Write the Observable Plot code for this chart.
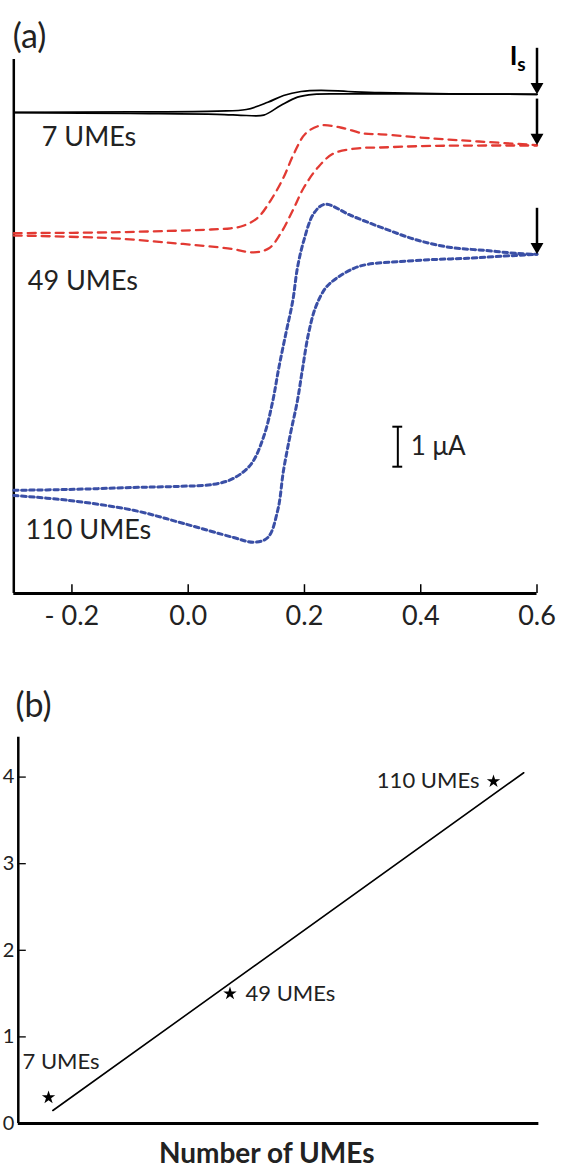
<!DOCTYPE html>
<html><head><meta charset="utf-8">
<script src="https://cdn.jsdelivr.net/npm/d3@7"></script>
<script src="https://cdn.jsdelivr.net/npm/@observablehq/plot@0.6"></script>
<style>
html,body{margin:0;padding:0;background:#fff;}
#chart{width:561px;}
#chart svg{display:block;overflow:visible;}
</style></head><body><div id="chart"></div>
<script>
// ---------- Panel (a): cyclic voltammograms (E in V, current in µA, offset per trace) ----------
const blackUpE = [-0.3, -0.1, 0.05, 0.1, 0.137, 0.164, 0.194, 0.228, 0.275, 0.33, 0.45, 0.6];
const blackUpI = [12.03, 12.04, 12.06, 12.1, 12.28, 12.45, 12.55, 12.58, 12.55, 12.52, 12.49, 12.48];
const blackDnE = [-0.3, -0.1, 0.05, 0.1, 0.13, 0.159, 0.188, 0.216, 0.275, 0.4, 0.6];
const blackDnI = [12.02, 12.0, 11.98, 11.95, 11.96, 12.2, 12.41, 12.48, 12.49, 12.49, 12.48];

const redUpE = [-0.3, -0.13, 0.039, 0.073, 0.096, 0.12, 0.142, 0.164, 0.182, 0.202, 0.228, 0.262, 0.302, 0.331, 0.417, 0.5, 0.6];
const redUpI = [9.01, 9.03, 9.10, 9.13, 9.2, 9.4, 9.83, 10.4, 11.0, 11.5, 11.7, 11.65, 11.5, 11.48, 11.38, 11.3, 11.21];
const redDnE = [-0.3, -0.13, -0.018, 0.068, 0.113, 0.139, 0.159, 0.18, 0.199, 0.223, 0.25, 0.292, 0.331, 0.417, 0.6];
const redDnI = [8.95, 8.88, 8.75, 8.63, 8.53, 8.63, 9.0, 9.58, 10.15, 10.65, 11.0, 11.13, 11.15, 11.19, 11.2];

const blueUpE = [-0.3, -0.207, -0.094, -0.013, 0.044, 0.078, 0.108, 0.13, 0.145, 0.156, 0.168, 0.18, 0.188, 0.199, 0.216, 0.235, 0.28, 0.336, 0.395, 0.452, 0.509, 0.567, 0.6];
const blueUpI = [2.58, 2.6, 2.65, 2.68, 2.73, 2.88, 3.23, 3.93, 4.78, 5.65, 6.5, 7.33, 8.15, 8.83, 9.5, 9.73, 9.45, 9.13, 8.83, 8.65, 8.58, 8.5, 8.48];
const blueDnE = [-0.3, -0.207, -0.094, -0.008, 0.078, 0.113, 0.137, 0.154, 0.164, 0.176, 0.188, 0.197, 0.207, 0.219, 0.237, 0.257, 0.285, 0.309, 0.366, 0.423, 0.481, 0.538, 0.6];
const blueDnI = [2.45, 2.33, 2.08, 1.75, 1.4, 1.28, 1.4, 2.08, 3.08, 4.0, 4.83, 5.65, 6.5, 7.15, 7.65, 7.9, 8.13, 8.23, 8.3, 8.35, 8.38, 8.43, 8.48];

const traceLabels = ["7 UMEs", "49 UMEs", "110 UMEs"];
const xTicks = [-0.2, 0.0, 0.2, 0.4, 0.6];
const xTickLabels = ["- 0.2", "0.0", "0.2", "0.4", "0.6"];
const scaleBarMuA = 1;

// ---------- Panel (b): Is vs number of UMEs ----------
const umeCounts = [7, 49, 110];
const umeIs = [0.30, 1.50, 3.95];
const umeLabels = ["7 UMEs", "49 UMEs", "110 UMEs"];
const fitN = [8, 117];
const fitIs = [0.15, 4.05];
const bTicks = [0, 1, 2, 3, 4];

const FONT = "Lato, 'Open Sans', sans-serif";
const rows = (E, I) => E.map((e, i) => ({E: e, I: I[i]}));
const RED = "#e23a33", BLUE = "#3a4fa6";

const arrowRows = [
  {E: 0.6, tip: blackUpI[blackUpI.length - 1]},
  {E: 0.6, tip: redUpI[redUpI.length - 1]},
  {E: 0.6, tip: blueUpI[blueUpI.length - 1]}
];

const plotA = Plot.plot({
  width: 561, height: 640,
  marginLeft: 13.3, marginRight: 24.5, marginTop: 25, marginBottom: 47,
  x: {domain: [-0.3, 0.6], axis: null},
  y: {domain: [0, 14.2], axis: null},
  style: {fontFamily: FONT, background: "white", color: "black"},
  marks: [
    Plot.ruleX([-0.3], {y1: 0, y2: 13.35, stroke: "black", strokeWidth: 2.5}),
    Plot.ruleY([0], {x1: -0.3, x2: 0.6, stroke: "black", strokeWidth: 3}),
    Plot.ruleX(xTicks, {y1: 0, y2: 0.22, stroke: "black", strokeWidth: 1.5}),
    Plot.text(xTicks, {x: d => d, y: 0, text: (d, i) => xTickLabels[i], dy: 23, fontSize: 27, fill: "#222"}),

    Plot.line(rows(blackUpE, blackUpI), {x: "E", y: "I", curve: "catmull-rom", stroke: "black", strokeWidth: 1.7}),
    Plot.line(rows(blackDnE, blackDnI), {x: "E", y: "I", curve: "catmull-rom", stroke: "black", strokeWidth: 1.7}),
    Plot.line(rows(redUpE, redUpI), {x: "E", y: "I", curve: "catmull-rom", stroke: RED, strokeWidth: 2.3, strokeDasharray: "8,6"}),
    Plot.line(rows(redDnE, redDnI), {x: "E", y: "I", curve: "catmull-rom", stroke: RED, strokeWidth: 2.3, strokeDasharray: "8,6"}),
    Plot.line(rows(blueUpE, blueUpI), {x: "E", y: "I", curve: "catmull-rom", stroke: BLUE, strokeWidth: 3, strokeDasharray: "4.5,3.5"}),
    Plot.line(rows(blueDnE, blueDnI), {x: "E", y: "I", curve: "catmull-rom", stroke: BLUE, strokeWidth: 3, strokeDasharray: "4.5,3.5"}),

    Plot.ruleX(arrowRows, {x: "E", y1: d => d.tip + 1.15, y2: d => d.tip + 0.2, stroke: "black", strokeWidth: 2.5}),
    Plot.dot(arrowRows, {x: "E", y: "tip", symbol: "triangle", rotate: 180, r: 4.8, fill: "black", stroke: "none", dy: -7.5}),

    Plot.text(["(a)"], {x: -0.302, y: 13.65, text: d => d, textAnchor: "start", lineAnchor: "bottom", fontSize: 34, fill: "#222"}),
    Plot.text(["I"], {x: 0.553, y: 13.22, text: d => d, textAnchor: "start", lineAnchor: "bottom", fontSize: 26, fontWeight: "bold"}),
    Plot.text(["s"], {x: 0.566, y: 13.07, text: d => d, textAnchor: "start", lineAnchor: "bottom", fontSize: 19, fontWeight: "bold"}),

    Plot.text([traceLabels[0]], {x: -0.252, y: 11.2, text: d => d, textAnchor: "start", lineAnchor: "bottom", fontSize: 27, fill: "#222"}),
    Plot.text([traceLabels[1]], {x: -0.276, y: 7.6, text: d => d, textAnchor: "start", lineAnchor: "bottom", fontSize: 27, fill: "#222"}),
    Plot.text([traceLabels[2]], {x: -0.28, y: 1.375, text: d => d, textAnchor: "start", lineAnchor: "bottom", fontSize: 27, fill: "#222"}),

    Plot.ruleX([0.3606], {y1: 3.17, y2: 3.17 + scaleBarMuA, stroke: "black", strokeWidth: 2}),
    Plot.ruleY([3.17, 3.17 + scaleBarMuA], {x1: 0.352, x2: 0.369, stroke: "black", strokeWidth: 2}),
    Plot.text([`${scaleBarMuA} μA`], {x: 0.383, y: 3.17 + scaleBarMuA / 2, text: d => d, textAnchor: "start", fontSize: 26, fill: "#222"})
  ]
});

const starRows = umeCounts.map((n, i) => ({N: n, Is: umeIs[i], label: umeLabels[i]}));

const plotB = Plot.plot({
  width: 561, height: 532,
  marginLeft: 17.8, marginRight: 24.8, marginTop: 67.3, marginBottom: 49,
  x: {domain: [0, 120], axis: null},
  y: {domain: [0, 4.8], axis: null},
  style: {fontFamily: FONT, background: "white", color: "black"},
  marks: [
    Plot.ruleX([0], {y1: 0, y2: 4.46, stroke: "black", strokeWidth: 2.5}),
    Plot.ruleY([0], {x1: 0, x2: 120.5, stroke: "black", strokeWidth: 3}),
    Plot.ruleY(bTicks.slice(1), {x1: 0, x2: 1.85, stroke: "black", strokeWidth: 1.3}),
    Plot.text(bTicks, {x: 0, y: d => d, text: d => String(d), textAnchor: "end", dx: -4, fontSize: 20, fill: "#222"}),
    Plot.line(fitN.map((n, i) => ({N: n, Is: fitIs[i]})), {x: "N", y: "Is", stroke: "black", strokeWidth: 1.6}),
    Plot.dot(starRows, {x: "N", y: "Is", symbol: "star", r: 4.2, fill: "black", stroke: "none"}),
    Plot.text(["(b)"], {x: -0.65, y: 4.69, text: d => d, textAnchor: "start", lineAnchor: "bottom", fontSize: 34, fill: "#222"}),
    Plot.text([starRows[0]], {x: 0.97, y: 0.635, text: "label", textAnchor: "start", lineAnchor: "bottom", fontSize: 22, fill: "#222"}),
    Plot.text([starRows[1]], {x: 52.6, y: 1.41, text: "label", textAnchor: "start", lineAnchor: "bottom", fontSize: 22, fill: "#222"}),
    Plot.text([starRows[2]], {x: 83.0, y: 3.87, text: "label", textAnchor: "start", lineAnchor: "bottom", fontSize: 22, fill: "#222"}),
    Plot.text(["Number of UMEs"], {x: 57.5, y: -0.46, text: d => d, textAnchor: "middle", lineAnchor: "bottom", fontSize: 28, fontWeight: "bold", fill: "#222"})
  ]
});

const root = document.getElementById("chart");
root.appendChild(plotA);
root.appendChild(plotB);
</script>
</body></html>
